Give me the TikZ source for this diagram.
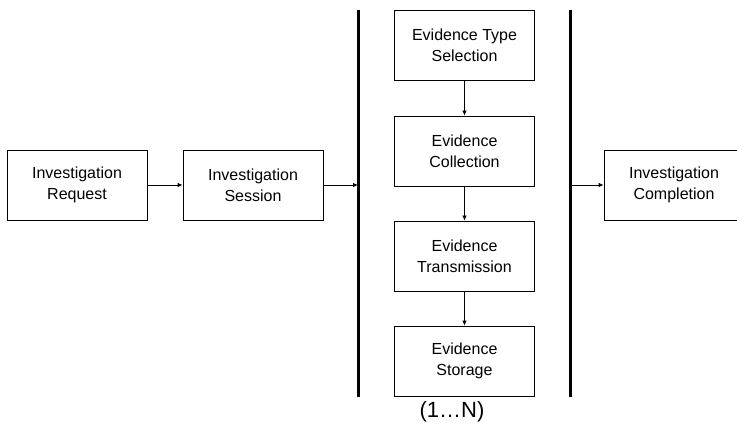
\documentclass[tikz,border=0pt]{standalone}
\usepackage{fontspec}
\setmainfont{Liberation Sans}
\usepackage{tikz}
\usetikzlibrary{arrows.meta,calc}

\begin{document}
\begin{tikzpicture}[x=1pt,y=-1pt]
\tikzset{stage/.style = {shape=rectangle,draw,line width=0.8pt,minimum width=140pt,minimum height=70pt,align=center,font=\fontsize{16}{21}\selectfont}}
\tikzset{link/.style = {-{Latex[length=5pt,width=4.5pt]},line width=0.8pt}}
\tikzset{bar/.style = {line width=3pt}}
\useasboundingbox (0,0) rectangle (737,425);

%vertices
\node[stage] (a) at (77,185) {Investigation\\Request};
\node[stage] (b) at (253,185) {Investigation\\Session};
\node[stage] (c) at (464.5,45) {Evidence Type\\Selection};
\node[stage] (d) at (464.5,151) {Evidence\\Collection};
\node[stage] (e) at (464.5,256) {Evidence\\Transmission};
\node[stage] (f) at (464.5,361) {Evidence\\Storage};
\node[stage] (g) at (674,185) {Investigation\\Completion};
\node[font=\fontsize{22}{24}\selectfont] (n) at (452,412) {(1\ldots N)};

%bars
\coordinate (p) at (358,185);
\coordinate (q) at (570,185);
\draw[bar] (358,10) -- (358,397);
\draw[bar] (570,10) -- (570,397);

%edges
\draw[link] (a) -- (b);
\draw[link] (b) -- (p);
\draw[link] (q) -- (g);
\draw[link] (c) -- (d);
\draw[link] (d) -- (e);
\draw[link] (e) -- (f);

\end{tikzpicture}
\end{document}
